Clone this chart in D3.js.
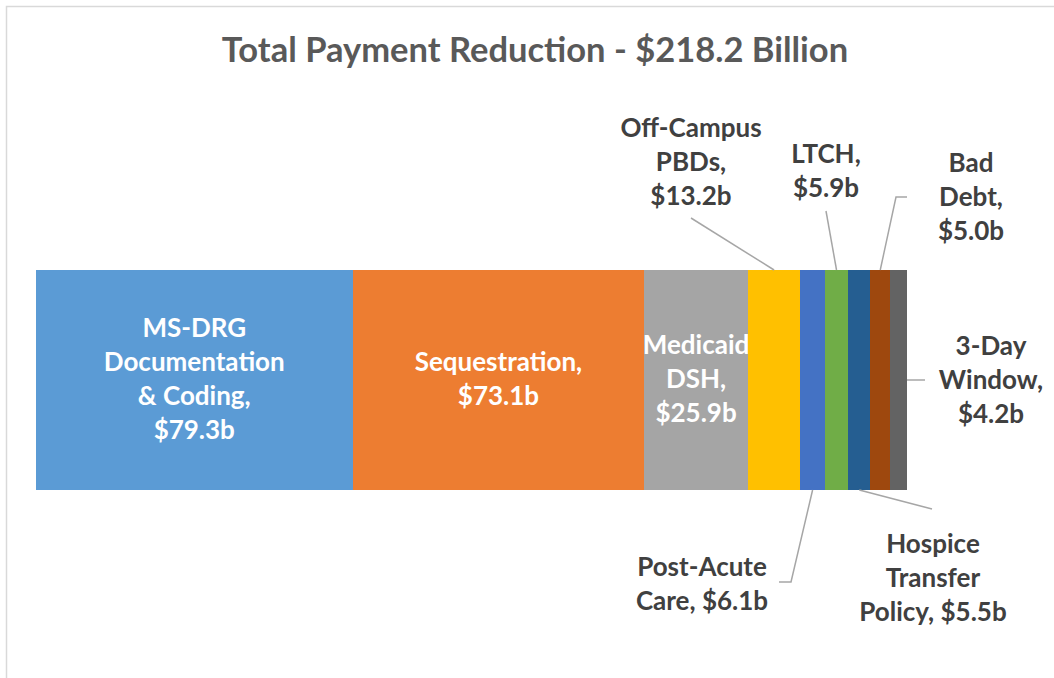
<!DOCTYPE html>
<html lang="en">
<head>
<meta charset="utf-8"/>
<script src="https://d3js.org/d3.v7.min.js"></script>
<title>Total Payment Reduction</title>
<style>
  body { margin: 0; background: #fff; }
  text { font-family: Lato, "Open Sans", sans-serif; font-weight: 700; }
</style>
</head>
<body>
<svg id="chart"></svg>
<script>
  const title = "Total Payment Reduction - $218.2 Billion";
  const categories = ["MS-DRG Documentation & Coding", "Sequestration", "Medicaid DSH",
    "Off-Campus PBDs", "Post-Acute Care", "LTCH", "Hospice Transfer Policy", "Bad Debt", "3-Day Window"];
  const values = [79.3, 73.1, 25.9, 13.2, 6.1, 5.9, 5.5, 5.0, 4.2];
  const labelLines = [
    ["MS-DRG", "Documentation", "& Coding,", "$79.3b"],
    ["Sequestration,", "$73.1b"],
    ["Medicaid", "DSH,", "$25.9b"],
    ["Off-Campus", "PBDs,", "$13.2b"],
    ["Post-Acute", "Care, $6.1b"],
    ["LTCH,", "$5.9b"],
    ["Hospice", "Transfer", "Policy, $5.5b"],
    ["Bad", "Debt,", "$5.0b"],
    ["3-Day", "Window,", "$4.2b"]
  ];

  const colors = ["#5b9bd5", "#ed7d31", "#a5a5a5", "#ffc000", "#4472c4",
    "#70ad47", "#255e91", "#9e480e", "#636363"];

  const width = 1054;
  const height = 678;
  const barTop = 270, barBottom = 490;
  const lineGap = 34;

  // labels placed outside the bar: anchor (center x, first baseline) and leader bend points
  const outside = {
    3: { x: 691, y: 137, side: "top", pts: [[691, 218]] },
    4: { x: 702, y: 576, side: "bottom", pts: [[791, 582], [779, 582]] },
    5: { x: 826, y: 163, side: "top", pts: [[826, 211]] },
    6: { x: 933, y: 553, side: "bottom", pts: [[932, 509]] },
    7: { x: 971, y: 172, side: "top", pts: [[896, 197], [907, 197]] },
    8: { x: 991, y: 355, side: "right", pts: [[925, 380]] }
  };

  const svg = d3.select("#chart")
    .attr("width", width)
    .attr("height", height);

  // chart area border (only top and left edges are visible in the frame)
  svg.append("path")
    .attr("d", "M6.5," + height + "V6.5H" + width)
    .attr("fill", "none")
    .attr("stroke", "#d9d9d9")
    .attr("stroke-width", 1.5);

  svg.append("text")
    .attr("x", 535)
    .attr("y", 62)
    .attr("text-anchor", "middle")
    .attr("fill", "#595959")
    .style("font-size", "34.5px")
    .text(title);

  const total = d3.sum(values);
  const x = d3.scaleLinear().domain([0, total]).range([36, 907]);

  const stacked = [];
  let acc = 0;
  values.forEach((v, i) => {
    stacked.push({ i: i, name: categories[i], v: v, x0: acc, x1: acc + v });
    acc += v;
  });

  svg.selectAll(".bar")
    .data(stacked)
    .enter()
    .append("rect")
    .attr("class", "bar")
    .attr("x", d => x(d.x0))
    .attr("y", barTop)
    .attr("width", d => x(d.x1) - x(d.x0))
    .attr("height", barBottom - barTop)
    .attr("fill", d => colors[d.i])
    .attr("shape-rendering", "crispEdges");

  const line = d3.line();
  const barMid = (barTop + barBottom) / 2;

  stacked.forEach(d => {
    const cx = (x(d.x0) + x(d.x1)) / 2;
    const lines = labelLines[d.i];
    const o = outside[d.i];
    let tx, ty, fill;
    if (o) {
      tx = o.x; ty = o.y; fill = "#404040";
      let start;
      if (o.side === "top") start = [cx, barTop];
      else if (o.side === "bottom") start = [cx, barBottom];
      else start = [x(d.x1), barMid];
      svg.append("path")
        .attr("d", line([start].concat(o.pts)))
        .attr("fill", "none")
        .attr("stroke", "#a6a6a6")
        .attr("stroke-width", 1.5);
    } else {
      tx = cx;
      ty = barMid - (lines.length - 1) / 2 * lineGap + 8;
      fill = "#ffffff";
    }
    const t = svg.append("text")
      .attr("text-anchor", "middle")
      .attr("fill", fill)
      .style("font-size", "26px");
    lines.forEach((s, k) => {
      t.append("tspan")
        .attr("x", tx)
        .attr("y", ty + k * lineGap)
        .text(s);
    });
  });
</script>
</body>
</html>
